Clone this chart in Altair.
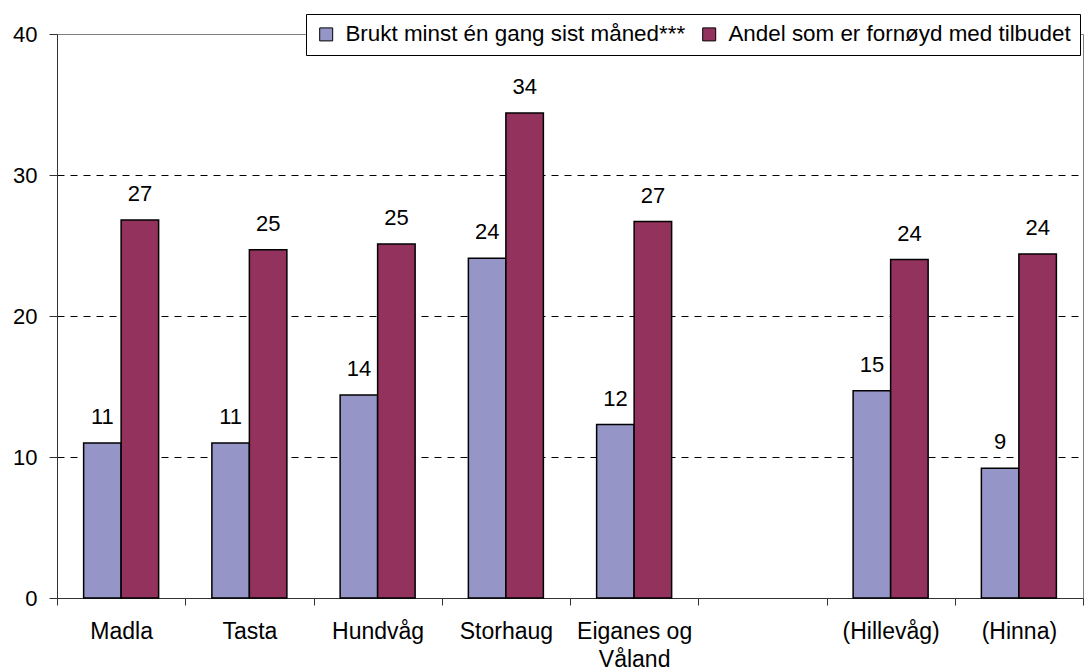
import altair as alt
import pandas as pd

categories = ["Madla", "Tasta", "Hundvåg", "Storhaug", "Eiganes og Våland", " ", "(Hillevåg)", "(Hinna)"]
series_names = ["Brukt minst én gang sist måned***", "Andel som er fornøyd med tilbudet"]
brukt = [11.0, 11.0, 14.4, 24.1, 12.3, None, 14.7, 9.2]
fornoyd = [26.8, 24.7, 25.1, 34.4, 26.7, None, 24.0, 24.4]
colors = ["#9695C8", "#94325E"]

rows = []
for i, c in enumerate(categories):
    for s, vals in zip(series_names, [brukt, fornoyd]):
        v = vals[i]
        if v is None:
            continue
        rows.append({"kategori": c, "serie": s, "verdi": v, "etikett": str(int(round(v)))})
df = pd.DataFrame(rows)

FONT = "Liberation Sans"

x_enc = alt.X(
    "kategori:N",
    scale=alt.Scale(domain=categories, paddingInner=0, paddingOuter=0),
    axis=alt.Axis(
        title=None,
        labelAngle=0,
        labelFontSize=23,
        labelColor="#000000",
        labelPadding=15,
        labelLineHeight=28,
        labelBaseline="top",
        labelLimit=0,
        tickBand="extent",
        tickSize=7,
        tickColor="#333333",
        domainColor="#333333",
        grid=False,
        labelExpr="datum.label == 'Eiganes og Våland' ? ['Eiganes og', 'Våland'] : datum.label",
    ),
)
xoff = alt.XOffset("serie:N", sort=series_names, scale=alt.Scale(domain=series_names, paddingOuter=0.71, paddingInner=0))
y_enc = alt.Y(
    "verdi:Q",
    scale=alt.Scale(domain=[0, 40], nice=False),
    axis=alt.Axis(
        title=None,
        values=[0, 10, 20, 30, 40],
        labelFontSize=22,
        labelColor="#000000",
        labelPadding=12,
        tickSize=8,
        tickColor="#333333",
        domainColor="#333333",
        grid=True,
        gridColor="#000000",
        gridDash=[7, 6],
        gridOpacity={"condition": {"test": "datum.value === 0 || datum.value === 40", "value": 0}, "value": 1},
    ),
)

bars = alt.Chart(df).mark_bar(stroke="#000000", strokeWidth=1.5).encode(
    x=x_enc,
    xOffset=xoff,
    y=y_enc,
    color=alt.Color(
        "serie:N",
        sort=series_names,
        scale=alt.Scale(domain=series_names, range=colors),
        legend=alt.Legend(
            title=None,
            orient="none",
            legendX=249,
            legendY=-20,
            direction="horizontal",
            fillColor="#FFFFFF",
            strokeColor="#000000",
            padding=9,
            labelFontSize=22.4,
            labelColor="#000000",
            labelLimit=0,
            symbolType="square",
            symbolSize=169,
            symbolStrokeColor="#000000",
            symbolStrokeWidth=1,
            symbolOpacity=1,
            labelOffset=8,
            columnPadding=12,
        ),
    ),
)

labels = alt.Chart(df).mark_text(fontSize=22, color="#000000", baseline="middle", dy=-26, font=FONT).encode(
    x=alt.X("kategori:N", scale=alt.Scale(domain=categories, paddingInner=0, paddingOuter=0)),
    xOffset=xoff,
    y=alt.Y("verdi:Q", scale=alt.Scale(domain=[0, 40], nice=False)),
    text="etikett:N",
)

chart = (
    alt.layer(bars, labels)
    .properties(width=1026, height=564, padding={"left": 4, "top": 5, "right": 0, "bottom": 0})
    .configure(font=FONT)
    .configure_view(stroke="#808080", strokeWidth=1)
)

chart.save("out.html", embed_options={"renderer": "svg", "actions": False})
